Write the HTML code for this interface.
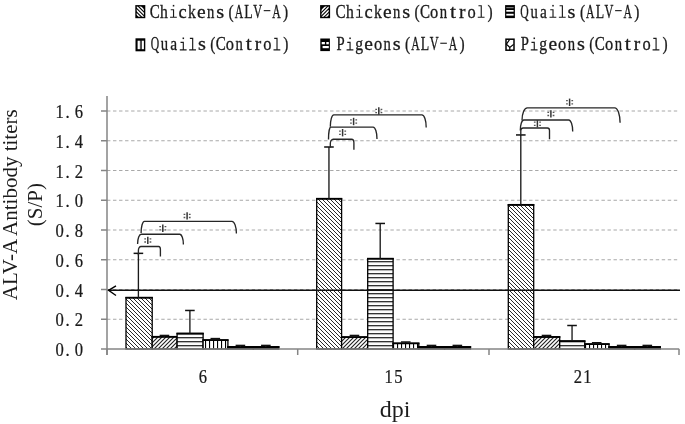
<!DOCTYPE html>
<html><head><meta charset="utf-8"><style>
html,body{margin:0;padding:0;background:#fff;width:685px;height:424px;overflow:hidden}
svg{display:block;will-change:transform}
</style></head><body>
<svg width="685" height="424" viewBox="0 0 685 424">
<defs>
<pattern id="p1" patternUnits="userSpaceOnUse" x="-1" y="0" width="4" height="4"><rect width="4" height="4" fill="#fff"/><path d="M-1,-1 L5,5 M-1,3 L1,5 M3,-1 L5,1" stroke="#2a2a2a" stroke-width="1.0"/></pattern>
<pattern id="p2" patternUnits="userSpaceOnUse" x="-1" y="0" width="4" height="4"><rect width="4" height="4" fill="#fff"/><path d="M-1,5 L5,-1 M-1,1 L1,-1 M3,5 L5,3" stroke="#222" stroke-width="1.15"/></pattern>
<pattern id="p3" patternUnits="userSpaceOnUse" x="0" y="1.2" width="4" height="4"><rect width="4" height="4" fill="#fff"/><rect x="0" y="0" width="4" height="1.1" fill="#000"/></pattern>
<pattern id="p4" patternUnits="userSpaceOnUse" x="1" y="0" width="4" height="4"><rect width="4" height="4" fill="#fff"/><rect x="0" y="0" width="1.1" height="4" fill="#000"/></pattern>
<pattern id="p5" patternUnits="userSpaceOnUse" width="8" height="8"><rect width="8" height="8" fill="#fff"/><path d="M0,0.5H8M0,4.5H8M4,0V4.5M0,4.5V8" stroke="#000" stroke-width="1"/></pattern>
<pattern id="p6" patternUnits="userSpaceOnUse" width="8" height="8"><rect width="8" height="8" fill="#fff"/><path d="M8,0L0,8M4,4L8,8" stroke="#000" stroke-width="1"/></pattern>
</defs>

<line x1="107.00" y1="319.25" x2="677.2" y2="319.25" stroke="#a8a8a8" stroke-width="1" stroke-dasharray="3.4,2.63"/>
<line x1="107.00" y1="289.50" x2="677.2" y2="289.50" stroke="#a8a8a8" stroke-width="1" stroke-dasharray="3.4,2.63"/>
<line x1="107.00" y1="259.75" x2="677.2" y2="259.75" stroke="#a8a8a8" stroke-width="1" stroke-dasharray="3.4,2.63"/>
<line x1="107.00" y1="230.00" x2="677.2" y2="230.00" stroke="#a8a8a8" stroke-width="1" stroke-dasharray="3.4,2.63"/>
<line x1="107.00" y1="200.25" x2="677.2" y2="200.25" stroke="#a8a8a8" stroke-width="1" stroke-dasharray="3.4,2.63"/>
<line x1="107.00" y1="170.50" x2="677.2" y2="170.50" stroke="#a8a8a8" stroke-width="1" stroke-dasharray="3.4,2.63"/>
<line x1="107.00" y1="140.75" x2="677.2" y2="140.75" stroke="#a8a8a8" stroke-width="1" stroke-dasharray="3.4,2.63"/>
<line x1="107.00" y1="111.00" x2="677.2" y2="111.00" stroke="#a8a8a8" stroke-width="1" stroke-dasharray="3.4,2.63"/>
<rect x="126.00" y="297.68" width="26.20" height="51.32" fill="url(#p1)" stroke="#000" stroke-width="1.3"/>
<line x1="125.35" y1="297.68" x2="152.85" y2="297.68" stroke="#000" stroke-width="1.8"/>
<rect x="152.20" y="336.80" width="24.90" height="12.20" fill="url(#p2)" stroke="#000" stroke-width="1.3"/>
<line x1="151.55" y1="336.80" x2="177.75" y2="336.80" stroke="#000" stroke-width="1.8"/>
<rect x="177.10" y="333.53" width="26.00" height="15.47" fill="url(#p3)" stroke="#000" stroke-width="1.3"/>
<line x1="176.45" y1="333.53" x2="203.75" y2="333.53" stroke="#000" stroke-width="1.8"/>
<rect x="203.10" y="340.07" width="24.80" height="8.93" fill="url(#p4)" stroke="#000" stroke-width="1.3"/>
<line x1="202.45" y1="340.07" x2="228.55" y2="340.07" stroke="#000" stroke-width="1.8"/>
<rect x="227.90" y="346.92" width="25.40" height="2.08" fill="#000" stroke="#000" stroke-width="1.3"/>
<line x1="227.25" y1="346.92" x2="253.95" y2="346.92" stroke="#000" stroke-width="1.8"/>
<rect x="253.30" y="346.92" width="25.50" height="2.08" fill="#000" stroke="#000" stroke-width="1.3"/>
<line x1="252.65" y1="346.92" x2="279.45" y2="346.92" stroke="#000" stroke-width="1.8"/>
<rect x="316.70" y="198.76" width="24.90" height="150.24" fill="url(#p1)" stroke="#000" stroke-width="1.3"/>
<line x1="316.05" y1="198.76" x2="342.25" y2="198.76" stroke="#000" stroke-width="1.8"/>
<rect x="341.60" y="337.10" width="26.10" height="11.90" fill="url(#p2)" stroke="#000" stroke-width="1.3"/>
<line x1="340.95" y1="337.10" x2="368.35" y2="337.10" stroke="#000" stroke-width="1.8"/>
<rect x="367.70" y="258.71" width="25.40" height="90.29" fill="url(#p3)" stroke="#000" stroke-width="1.3"/>
<line x1="367.05" y1="258.71" x2="393.75" y2="258.71" stroke="#000" stroke-width="1.8"/>
<rect x="393.10" y="343.35" width="25.70" height="5.65" fill="url(#p4)" stroke="#000" stroke-width="1.3"/>
<line x1="392.45" y1="343.35" x2="419.45" y2="343.35" stroke="#000" stroke-width="1.8"/>
<rect x="418.80" y="346.92" width="25.80" height="2.08" fill="#000" stroke="#000" stroke-width="1.3"/>
<line x1="418.15" y1="346.92" x2="445.25" y2="346.92" stroke="#000" stroke-width="1.8"/>
<rect x="444.60" y="346.92" width="25.90" height="2.08" fill="#000" stroke="#000" stroke-width="1.3"/>
<line x1="443.95" y1="346.92" x2="471.15" y2="346.92" stroke="#000" stroke-width="1.8"/>
<rect x="508.30" y="204.86" width="25.40" height="144.14" fill="url(#p1)" stroke="#000" stroke-width="1.3"/>
<line x1="507.65" y1="204.86" x2="534.35" y2="204.86" stroke="#000" stroke-width="1.8"/>
<rect x="533.70" y="336.95" width="26.00" height="12.05" fill="url(#p2)" stroke="#000" stroke-width="1.3"/>
<line x1="533.05" y1="336.95" x2="560.35" y2="336.95" stroke="#000" stroke-width="1.8"/>
<rect x="559.70" y="341.12" width="25.10" height="7.88" fill="url(#p3)" stroke="#000" stroke-width="1.3"/>
<line x1="559.05" y1="341.12" x2="585.45" y2="341.12" stroke="#000" stroke-width="1.8"/>
<rect x="584.80" y="344.09" width="24.20" height="4.91" fill="url(#p4)" stroke="#000" stroke-width="1.3"/>
<line x1="584.15" y1="344.09" x2="609.65" y2="344.09" stroke="#000" stroke-width="1.8"/>
<rect x="609.00" y="346.92" width="25.70" height="2.08" fill="#000" stroke="#000" stroke-width="1.3"/>
<line x1="608.35" y1="346.92" x2="635.35" y2="346.92" stroke="#000" stroke-width="1.8"/>
<rect x="634.70" y="346.92" width="25.60" height="2.08" fill="#000" stroke="#000" stroke-width="1.3"/>
<line x1="634.05" y1="346.92" x2="660.95" y2="346.92" stroke="#000" stroke-width="1.8"/>
<line x1="138.40" y1="297.68" x2="138.40" y2="253.35" stroke="#1a1a1a" stroke-width="1.35"/>
<line x1="133.60" y1="253.35" x2="143.20" y2="253.35" stroke="#111" stroke-width="1.5"/>
<line x1="164.45" y1="336.80" x2="164.45" y2="335.46" stroke="#1a1a1a" stroke-width="1.35"/>
<line x1="159.65" y1="335.46" x2="169.25" y2="335.46" stroke="#111" stroke-width="1.5"/>
<line x1="189.90" y1="333.53" x2="189.90" y2="310.47" stroke="#1a1a1a" stroke-width="1.35"/>
<line x1="185.10" y1="310.47" x2="194.70" y2="310.47" stroke="#111" stroke-width="1.5"/>
<line x1="215.30" y1="340.07" x2="215.30" y2="338.59" stroke="#1a1a1a" stroke-width="1.35"/>
<line x1="210.50" y1="338.59" x2="220.10" y2="338.59" stroke="#111" stroke-width="1.5"/>
<line x1="240.40" y1="346.92" x2="240.40" y2="345.43" stroke="#1a1a1a" stroke-width="1.35"/>
<line x1="235.60" y1="345.43" x2="245.20" y2="345.43" stroke="#111" stroke-width="1.5"/>
<line x1="265.85" y1="346.92" x2="265.85" y2="345.43" stroke="#1a1a1a" stroke-width="1.35"/>
<line x1="261.05" y1="345.43" x2="270.65" y2="345.43" stroke="#111" stroke-width="1.5"/>
<line x1="328.95" y1="198.76" x2="328.95" y2="147.00" stroke="#1a1a1a" stroke-width="1.35"/>
<line x1="324.15" y1="147.00" x2="333.75" y2="147.00" stroke="#111" stroke-width="1.5"/>
<line x1="354.45" y1="337.10" x2="354.45" y2="335.46" stroke="#1a1a1a" stroke-width="1.35"/>
<line x1="349.65" y1="335.46" x2="359.25" y2="335.46" stroke="#111" stroke-width="1.5"/>
<line x1="380.20" y1="258.71" x2="380.20" y2="223.45" stroke="#1a1a1a" stroke-width="1.35"/>
<line x1="375.40" y1="223.45" x2="385.00" y2="223.45" stroke="#111" stroke-width="1.5"/>
<line x1="405.75" y1="343.35" x2="405.75" y2="342.01" stroke="#1a1a1a" stroke-width="1.35"/>
<line x1="400.95" y1="342.01" x2="410.55" y2="342.01" stroke="#111" stroke-width="1.5"/>
<line x1="431.50" y1="346.92" x2="431.50" y2="345.43" stroke="#1a1a1a" stroke-width="1.35"/>
<line x1="426.70" y1="345.43" x2="436.30" y2="345.43" stroke="#111" stroke-width="1.5"/>
<line x1="457.35" y1="346.92" x2="457.35" y2="345.43" stroke="#1a1a1a" stroke-width="1.35"/>
<line x1="452.55" y1="345.43" x2="462.15" y2="345.43" stroke="#111" stroke-width="1.5"/>
<line x1="520.80" y1="204.86" x2="520.80" y2="134.95" stroke="#1a1a1a" stroke-width="1.35"/>
<line x1="516.00" y1="134.95" x2="525.60" y2="134.95" stroke="#111" stroke-width="1.5"/>
<line x1="546.50" y1="336.95" x2="546.50" y2="335.46" stroke="#1a1a1a" stroke-width="1.35"/>
<line x1="541.70" y1="335.46" x2="551.30" y2="335.46" stroke="#111" stroke-width="1.5"/>
<line x1="572.05" y1="341.12" x2="572.05" y2="325.50" stroke="#1a1a1a" stroke-width="1.35"/>
<line x1="567.25" y1="325.50" x2="576.85" y2="325.50" stroke="#111" stroke-width="1.5"/>
<line x1="596.70" y1="344.09" x2="596.70" y2="342.75" stroke="#1a1a1a" stroke-width="1.35"/>
<line x1="591.90" y1="342.75" x2="601.50" y2="342.75" stroke="#111" stroke-width="1.5"/>
<line x1="621.65" y1="346.92" x2="621.65" y2="345.43" stroke="#1a1a1a" stroke-width="1.35"/>
<line x1="616.85" y1="345.43" x2="626.45" y2="345.43" stroke="#111" stroke-width="1.5"/>
<line x1="647.30" y1="346.92" x2="647.30" y2="345.43" stroke="#1a1a1a" stroke-width="1.35"/>
<line x1="642.50" y1="345.43" x2="652.10" y2="345.43" stroke="#111" stroke-width="1.5"/>
<line x1="107.0" y1="96" x2="107.0" y2="355" stroke="#858585" stroke-width="1.5"/>
<line x1="107.0" y1="349.0" x2="679.2" y2="349.0" stroke="#858585" stroke-width="1.5"/>
<line x1="101" y1="349.00" x2="107.0" y2="349.00" stroke="#858585" stroke-width="1.5"/>
<line x1="101" y1="319.25" x2="107.0" y2="319.25" stroke="#858585" stroke-width="1.5"/>
<line x1="101" y1="289.50" x2="107.0" y2="289.50" stroke="#858585" stroke-width="1.5"/>
<line x1="101" y1="259.75" x2="107.0" y2="259.75" stroke="#858585" stroke-width="1.5"/>
<line x1="101" y1="230.00" x2="107.0" y2="230.00" stroke="#858585" stroke-width="1.5"/>
<line x1="101" y1="200.25" x2="107.0" y2="200.25" stroke="#858585" stroke-width="1.5"/>
<line x1="101" y1="170.50" x2="107.0" y2="170.50" stroke="#858585" stroke-width="1.5"/>
<line x1="101" y1="140.75" x2="107.0" y2="140.75" stroke="#858585" stroke-width="1.5"/>
<line x1="101" y1="111.00" x2="107.0" y2="111.00" stroke="#858585" stroke-width="1.5"/>
<line x1="107.00" y1="349.0" x2="107.00" y2="355" stroke="#858585" stroke-width="1.5"/>
<line x1="297.70" y1="349.0" x2="297.70" y2="355" stroke="#858585" stroke-width="1.5"/>
<line x1="489.00" y1="349.0" x2="489.00" y2="355" stroke="#858585" stroke-width="1.5"/>
<line x1="679.00" y1="349.0" x2="679.00" y2="355" stroke="#858585" stroke-width="1.5"/>
<line x1="108" y1="290.3" x2="680" y2="290.3" stroke="#111" stroke-width="1.55"/>
<path d="M116,285.9 L108.6,290.3 L116,295.5" fill="none" stroke="#000" stroke-width="1.4"/>
<path d="M138.4,255.3 L138.4,250.5 A2.6,4.0 0 0 1 141.0,246.5 L158.6,246.5 A1.8,3.0 0 0 1 160.4,249.5 L160.4,256.6" fill="none" stroke="#262626" stroke-width="1.35"/>
<path d="M137.6,244.0 A3.7,9.8 0 0 1 141.3,234.2 L179.7,234.2 A3.7,10.2 0 0 1 183.4,244.4 " fill="none" stroke="#262626" stroke-width="1.35"/>
<path d="M141.1,233.1 A3.3,11.8 0 0 1 144.4,221.3 L231.9,221.3 A4.5,12.2 0 0 1 236.4,233.5 " fill="none" stroke="#262626" stroke-width="1.35"/>
<path d="M330.3,147.5 L330.3,143.7 A2.9,4.5 0 0 1 333.2,139.2 L351.5,139.2 A2.4,3.6 0 0 1 353.9,142.8 L353.9,149.8" fill="none" stroke="#262626" stroke-width="1.35"/>
<path d="M328.5,139.5 A2.3,12.4 0 0 1 330.8,127.1 L373.1,127.1 A3.9,11.8 0 0 1 377.0,138.9 " fill="none" stroke="#262626" stroke-width="1.35"/>
<path d="M330.3,126.8 A3.5,11.9 0 0 1 333.8,114.9 L421.9,114.9 A4.3,12.5 0 0 1 426.2,127.4 " fill="none" stroke="#262626" stroke-width="1.35"/>
<path d="M520.8,135.1 L520.8,130.8 A2.4,2.8 0 0 1 523.2,128.0 L547.4,128.0 A2.1,2.6 0 0 1 549.5,130.6 L549.5,139.2" fill="none" stroke="#262626" stroke-width="1.35"/>
<path d="M520.3,130.4 A3.5,10.4 0 0 1 523.8,120.0 L568.7,120.0 A4.0,11.4 0 0 1 572.7,131.4 " fill="none" stroke="#262626" stroke-width="1.35"/>
<path d="M522.0,120.4 A5.3,12.6 0 0 1 527.3,107.8 L614.7,107.8 A5.4,15.0 0 0 1 620.1,122.8 " fill="none" stroke="#262626" stroke-width="1.35"/>
<g><line x1="147.8" y1="236.7" x2="147.8" y2="244.1" stroke="#333" stroke-width="1.5"/><path d="M144.3,238.8h1.7 M144.3,242.0h1.7 M149.6,238.8h1.7 M149.6,242.0h1.7" stroke="#555" stroke-width="1.3"/></g>
<g><line x1="162.8" y1="224.5" x2="162.8" y2="231.9" stroke="#333" stroke-width="1.5"/><path d="M159.3,226.6h1.7 M159.3,229.8h1.7 M164.6,226.6h1.7 M164.6,229.8h1.7" stroke="#555" stroke-width="1.3"/></g>
<g><line x1="187.1" y1="212.2" x2="187.1" y2="219.6" stroke="#333" stroke-width="1.5"/><path d="M183.6,214.3h1.7 M183.6,217.5h1.7 M188.9,214.3h1.7 M188.9,217.5h1.7" stroke="#555" stroke-width="1.3"/></g>
<g><line x1="342.6" y1="129.0" x2="342.6" y2="136.4" stroke="#333" stroke-width="1.5"/><path d="M339.1,131.1h1.7 M339.1,134.3h1.7 M344.4,131.1h1.7 M344.4,134.3h1.7" stroke="#555" stroke-width="1.3"/></g>
<g><line x1="353.6" y1="117.8" x2="353.6" y2="125.2" stroke="#333" stroke-width="1.5"/><path d="M350.1,119.9h1.7 M350.1,123.1h1.7 M355.4,119.9h1.7 M355.4,123.1h1.7" stroke="#555" stroke-width="1.3"/></g>
<g><line x1="378.8" y1="107.3" x2="378.8" y2="114.7" stroke="#333" stroke-width="1.5"/><path d="M375.3,109.4h1.7 M375.3,112.6h1.7 M380.6,109.4h1.7 M380.6,112.6h1.7" stroke="#555" stroke-width="1.3"/></g>
<g><line x1="537.4" y1="120.0" x2="537.4" y2="127.4" stroke="#333" stroke-width="1.5"/><path d="M533.9,122.1h1.7 M533.9,125.3h1.7 M539.2,122.1h1.7 M539.2,125.3h1.7" stroke="#555" stroke-width="1.3"/></g>
<g><line x1="550.9" y1="110.2" x2="550.9" y2="117.6" stroke="#333" stroke-width="1.5"/><path d="M547.4,112.3h1.7 M547.4,115.5h1.7 M552.7,112.3h1.7 M552.7,115.5h1.7" stroke="#555" stroke-width="1.3"/></g>
<g><line x1="569.6" y1="98.6" x2="569.6" y2="106.0" stroke="#333" stroke-width="1.5"/><path d="M566.1,100.7h1.7 M566.1,103.9h1.7 M571.4,100.7h1.7 M571.4,103.9h1.7" stroke="#555" stroke-width="1.3"/></g>
<text transform="scale(0.8500,1)" x="70.24 79.41 92.82" y="356.2" text-anchor="middle" font-family="Liberation Serif" font-size="19.5" fill="#1a1a1a" stroke="#1a1a1a" stroke-width="0.25">0.0</text>
<text transform="scale(0.8500,1)" x="70.24 79.41 92.82" y="326.45" text-anchor="middle" font-family="Liberation Serif" font-size="19.5" fill="#1a1a1a" stroke="#1a1a1a" stroke-width="0.25">0.2</text>
<text transform="scale(0.8500,1)" x="70.24 79.41 92.82" y="296.7" text-anchor="middle" font-family="Liberation Serif" font-size="19.5" fill="#1a1a1a" stroke="#1a1a1a" stroke-width="0.25">0.4</text>
<text transform="scale(0.8500,1)" x="70.24 79.41 92.82" y="266.95" text-anchor="middle" font-family="Liberation Serif" font-size="19.5" fill="#1a1a1a" stroke="#1a1a1a" stroke-width="0.25">0.6</text>
<text transform="scale(0.8500,1)" x="70.24 79.41 92.82" y="237.2" text-anchor="middle" font-family="Liberation Serif" font-size="19.5" fill="#1a1a1a" stroke="#1a1a1a" stroke-width="0.25">0.8</text>
<text transform="scale(0.8500,1)" x="70.24 79.41 92.82" y="207.45" text-anchor="middle" font-family="Liberation Serif" font-size="19.5" fill="#1a1a1a" stroke="#1a1a1a" stroke-width="0.25">1.0</text>
<text transform="scale(0.8500,1)" x="70.24 79.41 92.82" y="177.69999999999996" text-anchor="middle" font-family="Liberation Serif" font-size="19.5" fill="#1a1a1a" stroke="#1a1a1a" stroke-width="0.25">1.2</text>
<text transform="scale(0.8500,1)" x="70.24 79.41 92.82" y="147.94999999999996" text-anchor="middle" font-family="Liberation Serif" font-size="19.5" fill="#1a1a1a" stroke="#1a1a1a" stroke-width="0.25">1.4</text>
<text transform="scale(0.8500,1)" x="70.24 79.41 92.82" y="118.2" text-anchor="middle" font-family="Liberation Serif" font-size="19.5" fill="#1a1a1a" stroke="#1a1a1a" stroke-width="0.25">1.6</text>
<text transform="scale(0.8500,1)" x="238.82" y="383.2" text-anchor="middle" font-family="Liberation Serif" font-size="19.5" fill="#1a1a1a" stroke="#1a1a1a" stroke-width="0.25">6</text>
<text transform="scale(0.8500,1)" x="457.29 468.59" y="383.2" text-anchor="middle" font-family="Liberation Serif" font-size="19.5" fill="#1a1a1a" stroke="#1a1a1a" stroke-width="0.25">15</text>
<text transform="scale(0.8500,1)" x="679.76 691.06" y="383.2" text-anchor="middle" font-family="Liberation Serif" font-size="19.5" fill="#1a1a1a" stroke="#1a1a1a" stroke-width="0.25">21</text>
<text transform="translate(154.60,17.8) scale(0.807,1)" x="-6.08" font-family="Liberation Serif" font-size="18.7" fill="#1a1a1a" stroke="#1a1a1a" stroke-width="0.3">C</text><text transform="translate(163.97,17.8) scale(0.836,1)" x="-4.67" font-family="Liberation Serif" font-size="18.7" fill="#1a1a1a" stroke="#1a1a1a" stroke-width="0.3">h</text><path d="M173.54,9.20V17.30M170.74,9.70H174.04M170.04,17.25H176.84" stroke="#1a1a1a" stroke-width="1.15" fill="none"/><rect x="172.79" y="4.90" width="1.5" height="1.6" fill="#1a1a1a"/><text transform="translate(182.71,17.8) scale(0.983,1)" x="-4.21" font-family="Liberation Serif" font-size="18.7" fill="#1a1a1a" stroke="#1a1a1a" stroke-width="0.3">c</text><text transform="translate(192.08,17.8) scale(0.836,1)" x="-4.86" font-family="Liberation Serif" font-size="18.7" fill="#1a1a1a" stroke="#1a1a1a" stroke-width="0.3">k</text><text transform="translate(201.45,17.8) scale(1.041,1)" x="-4.21" font-family="Liberation Serif" font-size="18.7" fill="#1a1a1a" stroke="#1a1a1a" stroke-width="0.3">e</text><text transform="translate(210.82,17.8) scale(0.785,1)" x="-4.77" font-family="Liberation Serif" font-size="18.7" fill="#1a1a1a" stroke="#1a1a1a" stroke-width="0.3">n</text><text transform="translate(220.19,17.8) scale(1.087,1)" x="-3.65" font-family="Liberation Serif" font-size="18.7" fill="#1a1a1a" stroke="#1a1a1a" stroke-width="0.3">s</text><text transform="translate(231.16,17.8) scale(0.823,1)" x="-3.18" font-family="Liberation Serif" font-size="18.7" fill="#1a1a1a" stroke="#1a1a1a" stroke-width="0.3">(</text><text transform="translate(238.93,17.8) scale(0.625,1)" x="-6.83" font-family="Liberation Serif" font-size="18.7" fill="#1a1a1a" stroke="#1a1a1a" stroke-width="0.3">A</text><text transform="translate(248.30,17.8) scale(0.740,1)" x="-5.42" font-family="Liberation Serif" font-size="18.7" fill="#1a1a1a" stroke="#1a1a1a" stroke-width="0.3">L</text><text transform="translate(257.67,17.8) scale(0.657,1)" x="-6.73" font-family="Liberation Serif" font-size="18.7" fill="#1a1a1a" stroke="#1a1a1a" stroke-width="0.3">V</text><rect x="263.74" y="10.10" width="6.6" height="1.1" fill="#1a1a1a"/><text transform="translate(276.41,17.8) scale(0.625,1)" x="-6.83" font-family="Liberation Serif" font-size="18.7" fill="#1a1a1a" stroke="#1a1a1a" stroke-width="0.3">A</text><text transform="translate(285.38,17.8) scale(0.823,1)" x="-2.99" font-family="Liberation Serif" font-size="18.7" fill="#1a1a1a" stroke="#1a1a1a" stroke-width="0.3">)</text>
<text transform="translate(340.50,17.8) scale(0.807,1)" x="-6.08" font-family="Liberation Serif" font-size="18.7" fill="#1a1a1a" stroke="#1a1a1a" stroke-width="0.3">C</text><text transform="translate(349.87,17.8) scale(0.836,1)" x="-4.67" font-family="Liberation Serif" font-size="18.7" fill="#1a1a1a" stroke="#1a1a1a" stroke-width="0.3">h</text><path d="M359.44,9.20V17.30M356.64,9.70H359.94M355.94,17.25H362.74" stroke="#1a1a1a" stroke-width="1.15" fill="none"/><rect x="358.69" y="4.90" width="1.5" height="1.6" fill="#1a1a1a"/><text transform="translate(368.61,17.8) scale(0.983,1)" x="-4.21" font-family="Liberation Serif" font-size="18.7" fill="#1a1a1a" stroke="#1a1a1a" stroke-width="0.3">c</text><text transform="translate(377.98,17.8) scale(0.836,1)" x="-4.86" font-family="Liberation Serif" font-size="18.7" fill="#1a1a1a" stroke="#1a1a1a" stroke-width="0.3">k</text><text transform="translate(387.35,17.8) scale(1.041,1)" x="-4.21" font-family="Liberation Serif" font-size="18.7" fill="#1a1a1a" stroke="#1a1a1a" stroke-width="0.3">e</text><text transform="translate(396.72,17.8) scale(0.785,1)" x="-4.77" font-family="Liberation Serif" font-size="18.7" fill="#1a1a1a" stroke="#1a1a1a" stroke-width="0.3">n</text><text transform="translate(406.09,17.8) scale(1.087,1)" x="-3.65" font-family="Liberation Serif" font-size="18.7" fill="#1a1a1a" stroke="#1a1a1a" stroke-width="0.3">s</text><text transform="translate(417.06,17.8) scale(0.823,1)" x="-3.18" font-family="Liberation Serif" font-size="18.7" fill="#1a1a1a" stroke="#1a1a1a" stroke-width="0.3">(</text><text transform="translate(424.83,17.8) scale(0.807,1)" x="-6.08" font-family="Liberation Serif" font-size="18.7" fill="#1a1a1a" stroke="#1a1a1a" stroke-width="0.3">C</text><text transform="translate(434.20,17.8) scale(0.879,1)" x="-4.67" font-family="Liberation Serif" font-size="18.7" fill="#1a1a1a" stroke="#1a1a1a" stroke-width="0.3">o</text><text transform="translate(443.57,17.8) scale(0.785,1)" x="-4.77" font-family="Liberation Serif" font-size="18.7" fill="#1a1a1a" stroke="#1a1a1a" stroke-width="0.3">n</text><text transform="translate(452.94,17.8) scale(1.150,1)" x="-2.62" font-family="Liberation Serif" font-size="18.7" fill="#1a1a1a" stroke="#1a1a1a" stroke-width="0.3">t</text><text transform="translate(462.31,17.8) scale(1.035,1)" x="-3.27" font-family="Liberation Serif" font-size="18.7" fill="#1a1a1a" stroke="#1a1a1a" stroke-width="0.3">r</text><text transform="translate(471.68,17.8) scale(0.879,1)" x="-4.67" font-family="Liberation Serif" font-size="18.7" fill="#1a1a1a" stroke="#1a1a1a" stroke-width="0.3">o</text><path d="M481.25,5.20V17.30M478.45,5.70H481.75M477.75,17.25H484.55" stroke="#1a1a1a" stroke-width="1.15" fill="none"/><text transform="translate(490.02,17.8) scale(0.823,1)" x="-2.99" font-family="Liberation Serif" font-size="18.7" fill="#1a1a1a" stroke="#1a1a1a" stroke-width="0.3">)</text>
<text transform="translate(524.70,17.8) scale(0.623,1)" x="-7.01" font-family="Liberation Serif" font-size="18.7" fill="#1a1a1a" stroke="#1a1a1a" stroke-width="0.3">Q</text><text transform="translate(534.07,17.8) scale(0.785,1)" x="-4.58" font-family="Liberation Serif" font-size="18.7" fill="#1a1a1a" stroke="#1a1a1a" stroke-width="0.3">u</text><text transform="translate(543.44,17.8) scale(0.829,1)" x="-4.30" font-family="Liberation Serif" font-size="18.7" fill="#1a1a1a" stroke="#1a1a1a" stroke-width="0.3">a</text><path d="M553.01,9.20V17.30M550.21,9.70H553.51M549.51,17.25H556.31" stroke="#1a1a1a" stroke-width="1.15" fill="none"/><rect x="552.26" y="4.90" width="1.5" height="1.6" fill="#1a1a1a"/><path d="M562.38,5.20V17.30M559.58,5.70H562.88M558.88,17.25H565.68" stroke="#1a1a1a" stroke-width="1.15" fill="none"/><text transform="translate(571.55,17.8) scale(1.087,1)" x="-3.65" font-family="Liberation Serif" font-size="18.7" fill="#1a1a1a" stroke="#1a1a1a" stroke-width="0.3">s</text><text transform="translate(582.52,17.8) scale(0.823,1)" x="-3.18" font-family="Liberation Serif" font-size="18.7" fill="#1a1a1a" stroke="#1a1a1a" stroke-width="0.3">(</text><text transform="translate(590.29,17.8) scale(0.625,1)" x="-6.83" font-family="Liberation Serif" font-size="18.7" fill="#1a1a1a" stroke="#1a1a1a" stroke-width="0.3">A</text><text transform="translate(599.66,17.8) scale(0.740,1)" x="-5.42" font-family="Liberation Serif" font-size="18.7" fill="#1a1a1a" stroke="#1a1a1a" stroke-width="0.3">L</text><text transform="translate(609.03,17.8) scale(0.657,1)" x="-6.73" font-family="Liberation Serif" font-size="18.7" fill="#1a1a1a" stroke="#1a1a1a" stroke-width="0.3">V</text><rect x="615.10" y="10.10" width="6.6" height="1.1" fill="#1a1a1a"/><text transform="translate(627.77,17.8) scale(0.625,1)" x="-6.83" font-family="Liberation Serif" font-size="18.7" fill="#1a1a1a" stroke="#1a1a1a" stroke-width="0.3">A</text><text transform="translate(636.74,17.8) scale(0.823,1)" x="-2.99" font-family="Liberation Serif" font-size="18.7" fill="#1a1a1a" stroke="#1a1a1a" stroke-width="0.3">)</text>
<text transform="translate(155.00,50.4) scale(0.623,1)" x="-7.01" font-family="Liberation Serif" font-size="18.7" fill="#1a1a1a" stroke="#1a1a1a" stroke-width="0.3">Q</text><text transform="translate(164.37,50.4) scale(0.785,1)" x="-4.58" font-family="Liberation Serif" font-size="18.7" fill="#1a1a1a" stroke="#1a1a1a" stroke-width="0.3">u</text><text transform="translate(173.74,50.4) scale(0.829,1)" x="-4.30" font-family="Liberation Serif" font-size="18.7" fill="#1a1a1a" stroke="#1a1a1a" stroke-width="0.3">a</text><path d="M183.31,41.80V49.90M180.51,42.30H183.81M179.81,49.85H186.61" stroke="#1a1a1a" stroke-width="1.15" fill="none"/><rect x="182.56" y="37.50" width="1.5" height="1.6" fill="#1a1a1a"/><path d="M192.68,37.80V49.90M189.88,38.30H193.18M189.18,49.85H195.98" stroke="#1a1a1a" stroke-width="1.15" fill="none"/><text transform="translate(201.85,50.4) scale(1.087,1)" x="-3.65" font-family="Liberation Serif" font-size="18.7" fill="#1a1a1a" stroke="#1a1a1a" stroke-width="0.3">s</text><text transform="translate(212.82,50.4) scale(0.823,1)" x="-3.18" font-family="Liberation Serif" font-size="18.7" fill="#1a1a1a" stroke="#1a1a1a" stroke-width="0.3">(</text><text transform="translate(220.59,50.4) scale(0.807,1)" x="-6.08" font-family="Liberation Serif" font-size="18.7" fill="#1a1a1a" stroke="#1a1a1a" stroke-width="0.3">C</text><text transform="translate(229.96,50.4) scale(0.879,1)" x="-4.67" font-family="Liberation Serif" font-size="18.7" fill="#1a1a1a" stroke="#1a1a1a" stroke-width="0.3">o</text><text transform="translate(239.33,50.4) scale(0.785,1)" x="-4.77" font-family="Liberation Serif" font-size="18.7" fill="#1a1a1a" stroke="#1a1a1a" stroke-width="0.3">n</text><text transform="translate(248.70,50.4) scale(1.150,1)" x="-2.62" font-family="Liberation Serif" font-size="18.7" fill="#1a1a1a" stroke="#1a1a1a" stroke-width="0.3">t</text><text transform="translate(258.07,50.4) scale(1.035,1)" x="-3.27" font-family="Liberation Serif" font-size="18.7" fill="#1a1a1a" stroke="#1a1a1a" stroke-width="0.3">r</text><text transform="translate(267.44,50.4) scale(0.879,1)" x="-4.67" font-family="Liberation Serif" font-size="18.7" fill="#1a1a1a" stroke="#1a1a1a" stroke-width="0.3">o</text><path d="M277.01,37.80V49.90M274.21,38.30H277.51M273.51,49.85H280.31" stroke="#1a1a1a" stroke-width="1.15" fill="none"/><text transform="translate(285.78,50.4) scale(0.823,1)" x="-2.99" font-family="Liberation Serif" font-size="18.7" fill="#1a1a1a" stroke="#1a1a1a" stroke-width="0.3">)</text>
<text transform="translate(340.50,50.4) scale(0.786,1)" x="-5.14" font-family="Liberation Serif" font-size="18.7" fill="#1a1a1a" stroke="#1a1a1a" stroke-width="0.3">P</text><path d="M350.07,41.80V49.90M347.27,42.30H350.57M346.57,49.85H353.37" stroke="#1a1a1a" stroke-width="1.15" fill="none"/><rect x="349.32" y="37.50" width="1.5" height="1.6" fill="#1a1a1a"/><text transform="translate(359.24,50.4) scale(0.839,1)" x="-4.86" font-family="Liberation Serif" font-size="18.7" fill="#1a1a1a" stroke="#1a1a1a" stroke-width="0.3">g</text><text transform="translate(368.61,50.4) scale(1.041,1)" x="-4.21" font-family="Liberation Serif" font-size="18.7" fill="#1a1a1a" stroke="#1a1a1a" stroke-width="0.3">e</text><text transform="translate(377.98,50.4) scale(0.879,1)" x="-4.67" font-family="Liberation Serif" font-size="18.7" fill="#1a1a1a" stroke="#1a1a1a" stroke-width="0.3">o</text><text transform="translate(387.35,50.4) scale(0.785,1)" x="-4.77" font-family="Liberation Serif" font-size="18.7" fill="#1a1a1a" stroke="#1a1a1a" stroke-width="0.3">n</text><text transform="translate(396.72,50.4) scale(1.087,1)" x="-3.65" font-family="Liberation Serif" font-size="18.7" fill="#1a1a1a" stroke="#1a1a1a" stroke-width="0.3">s</text><text transform="translate(407.69,50.4) scale(0.823,1)" x="-3.18" font-family="Liberation Serif" font-size="18.7" fill="#1a1a1a" stroke="#1a1a1a" stroke-width="0.3">(</text><text transform="translate(415.46,50.4) scale(0.625,1)" x="-6.83" font-family="Liberation Serif" font-size="18.7" fill="#1a1a1a" stroke="#1a1a1a" stroke-width="0.3">A</text><text transform="translate(424.83,50.4) scale(0.740,1)" x="-5.42" font-family="Liberation Serif" font-size="18.7" fill="#1a1a1a" stroke="#1a1a1a" stroke-width="0.3">L</text><text transform="translate(434.20,50.4) scale(0.657,1)" x="-6.73" font-family="Liberation Serif" font-size="18.7" fill="#1a1a1a" stroke="#1a1a1a" stroke-width="0.3">V</text><rect x="440.27" y="42.70" width="6.6" height="1.1" fill="#1a1a1a"/><text transform="translate(452.94,50.4) scale(0.625,1)" x="-6.83" font-family="Liberation Serif" font-size="18.7" fill="#1a1a1a" stroke="#1a1a1a" stroke-width="0.3">A</text><text transform="translate(461.91,50.4) scale(0.823,1)" x="-2.99" font-family="Liberation Serif" font-size="18.7" fill="#1a1a1a" stroke="#1a1a1a" stroke-width="0.3">)</text>
<text transform="translate(524.70,50.4) scale(0.786,1)" x="-5.14" font-family="Liberation Serif" font-size="18.7" fill="#1a1a1a" stroke="#1a1a1a" stroke-width="0.3">P</text><path d="M534.27,41.80V49.90M531.47,42.30H534.77M530.77,49.85H537.57" stroke="#1a1a1a" stroke-width="1.15" fill="none"/><rect x="533.52" y="37.50" width="1.5" height="1.6" fill="#1a1a1a"/><text transform="translate(543.44,50.4) scale(0.839,1)" x="-4.86" font-family="Liberation Serif" font-size="18.7" fill="#1a1a1a" stroke="#1a1a1a" stroke-width="0.3">g</text><text transform="translate(552.81,50.4) scale(1.041,1)" x="-4.21" font-family="Liberation Serif" font-size="18.7" fill="#1a1a1a" stroke="#1a1a1a" stroke-width="0.3">e</text><text transform="translate(562.18,50.4) scale(0.879,1)" x="-4.67" font-family="Liberation Serif" font-size="18.7" fill="#1a1a1a" stroke="#1a1a1a" stroke-width="0.3">o</text><text transform="translate(571.55,50.4) scale(0.785,1)" x="-4.77" font-family="Liberation Serif" font-size="18.7" fill="#1a1a1a" stroke="#1a1a1a" stroke-width="0.3">n</text><text transform="translate(580.92,50.4) scale(1.087,1)" x="-3.65" font-family="Liberation Serif" font-size="18.7" fill="#1a1a1a" stroke="#1a1a1a" stroke-width="0.3">s</text><text transform="translate(591.89,50.4) scale(0.823,1)" x="-3.18" font-family="Liberation Serif" font-size="18.7" fill="#1a1a1a" stroke="#1a1a1a" stroke-width="0.3">(</text><text transform="translate(599.66,50.4) scale(0.807,1)" x="-6.08" font-family="Liberation Serif" font-size="18.7" fill="#1a1a1a" stroke="#1a1a1a" stroke-width="0.3">C</text><text transform="translate(609.03,50.4) scale(0.879,1)" x="-4.67" font-family="Liberation Serif" font-size="18.7" fill="#1a1a1a" stroke="#1a1a1a" stroke-width="0.3">o</text><text transform="translate(618.40,50.4) scale(0.785,1)" x="-4.77" font-family="Liberation Serif" font-size="18.7" fill="#1a1a1a" stroke="#1a1a1a" stroke-width="0.3">n</text><text transform="translate(627.77,50.4) scale(1.150,1)" x="-2.62" font-family="Liberation Serif" font-size="18.7" fill="#1a1a1a" stroke="#1a1a1a" stroke-width="0.3">t</text><text transform="translate(637.14,50.4) scale(1.035,1)" x="-3.27" font-family="Liberation Serif" font-size="18.7" fill="#1a1a1a" stroke="#1a1a1a" stroke-width="0.3">r</text><text transform="translate(646.51,50.4) scale(0.879,1)" x="-4.67" font-family="Liberation Serif" font-size="18.7" fill="#1a1a1a" stroke="#1a1a1a" stroke-width="0.3">o</text><path d="M656.08,37.80V49.90M653.28,38.30H656.58M652.58,49.85H659.38" stroke="#1a1a1a" stroke-width="1.15" fill="none"/><text transform="translate(664.85,50.4) scale(0.823,1)" x="-2.99" font-family="Liberation Serif" font-size="18.7" fill="#1a1a1a" stroke="#1a1a1a" stroke-width="0.3">)</text>
<clipPath id="ci1"><rect x="136.7" y="6.5" width="7.2" height="10.3"/></clipPath>
<clipPath id="ci2"><rect x="321.5" y="6.5" width="7.2" height="10.3"/></clipPath>
<rect x="135.3" y="5.1" width="10.0" height="13.1" fill="#000"/>
<g clip-path="url(#ci1)" stroke="#fff" stroke-width="1.5"><line x1="137.8" y1="4" x2="153.8" y2="20"/><line x1="134.1" y1="4" x2="150.1" y2="20"/><line x1="130.4" y1="4" x2="146.4" y2="20"/><line x1="126.7" y1="4" x2="142.7" y2="20"/></g>
<rect x="320.1" y="5.1" width="10.0" height="13.1" fill="#000"/>
<g clip-path="url(#ci2)" stroke="#fff" stroke-width="1.5"><line x1="328.2" y1="4" x2="312.2" y2="20"/><line x1="331.8" y1="4" x2="315.8" y2="20"/><line x1="335.4" y1="4" x2="319.4" y2="20"/><line x1="339.0" y1="4" x2="323.0" y2="20"/></g>
<rect x="505.1" y="5.1" width="9.8" height="13.0" fill="#000"/>
<rect x="506.3" y="7.2" width="7.3" height="1.0" fill="#999"/><rect x="506.3" y="10.0" width="7.3" height="1.7" fill="#fff"/><rect x="506.3" y="13.8" width="7.3" height="1.8" fill="#fff"/>
<rect x="135.5" y="38.3" width="9.8" height="13.0" fill="#000"/>
<rect x="137.6" y="40.7" width="2.3" height="8.5" fill="#fff"/><rect x="141.8" y="40.7" width="2.1" height="8.5" fill="#fff"/><rect x="140.0" y="40.7" width="1.7" height="8.5" fill="#555"/>
<rect x="320.3" y="38.5" width="9.6" height="12.6" fill="#000"/>
<rect x="321.7" y="42.0" width="3.2" height="2.3" fill="#fff"/><rect x="326.3" y="42.0" width="2.5" height="2.3" fill="#fff"/><rect x="322.6" y="46.0" width="6.2" height="2.2" fill="#fff"/>
<rect x="506.0" y="39.2" width="8.0" height="11.0" fill="#fff" stroke="#000" stroke-width="1.5"/>
<path d="M509.4,39.8 L506.4,44.1 L509.8,47.5 L513.6,44.4 M509.8,47.5 V50.3" fill="none" stroke="#000" stroke-width="1.2"/>
<text x="395" y="416.5" text-anchor="middle" font-family="Liberation Serif" font-size="24" fill="#1c1c1c">dpi</text>
<g transform="translate(17,204.8) rotate(-90)"><text x="0" y="0" text-anchor="middle" font-family="Liberation Serif" font-size="21" fill="#1c1c1c">ALV-A Antibody titers</text></g>
<g transform="translate(41.5,204.7) rotate(-90)"><text x="0" y="0" text-anchor="middle" font-family="Liberation Serif" font-size="21" fill="#1c1c1c">(S/P)</text></g>
</svg>
</body></html>
